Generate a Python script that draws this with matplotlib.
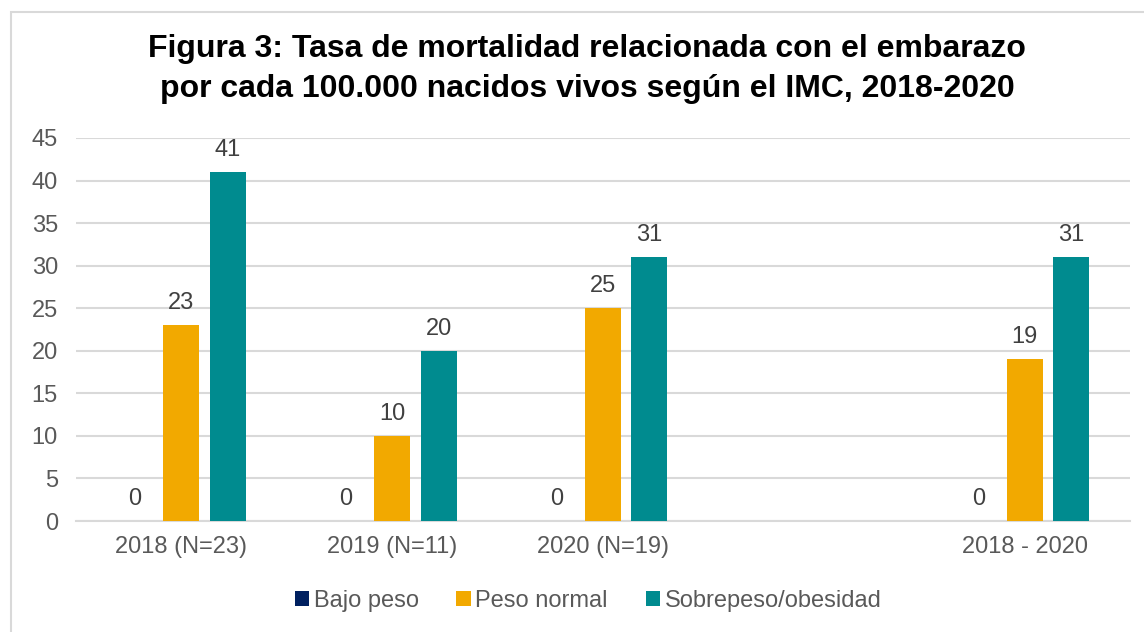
import matplotlib.pyplot as plt
from matplotlib.patches import Rectangle
import numpy as np

plt.rcParams['font.family'] = ['Liberation Sans', 'DejaVu Sans']

categories = ["2018 (N=23)", "2019 (N=11)", "2020 (N=19)", "", "2018 - 2020"]
bajo_peso = [0, 0, 0, None, 0]
peso_normal = [23, 10, 25, None, 19]
sobrepeso = [41, 20, 31, None, 31]

series = [("Bajo peso", bajo_peso, "#002060"),
          ("Peso normal", peso_normal, "#F2A900"),
          ("Sobrepeso/obesidad", sobrepeso, "#008B8F")]

W, H = 1144, 632
fig = plt.figure(figsize=(W / 100, H / 100), dpi=100)
ax = fig.add_axes([76 / W, 1 - 521 / H, (1130 - 76) / W, (521 - 138) / H])

# outer chart border (only top/left visible in the reference)
fig.patches.append(Rectangle((10.5 / W, -0.1), 2, (H - 11.5) / H + 0.1,
                             transform=fig.transFigure, fill=False,
                             edgecolor="#D9D9D9", linewidth=1.5))

x = np.arange(len(categories))
bw = 0.171
step = 0.22
grey = "#595959"
for i, (name, vals, col) in enumerate(series):
    xs = [xi + (i - 1) * step for xi, v in zip(x, vals) if v is not None]
    vs = [v for v in vals if v is not None]
    ax.bar(xs, vs, width=bw, color=col, label=name, zorder=3)
    for xi, v in zip(xs, vs):
        ax.text(xi, v + 1.3, f"{v}", ha="center", va="bottom",
                fontsize=17, color="#404040")

ax.set_xlim(-0.5, len(categories) - 0.5)
ax.set_ylim(0, 45)
ax.set_yticks(range(0, 46, 5))
ax.set_xticks(x)
ax.set_xticklabels(categories)
ax.tick_params(axis="both", length=0, labelsize=17, labelcolor=grey)
ax.tick_params(axis="y", pad=13)
ax.tick_params(axis="x", pad=11)
ax.grid(axis="y", color="#D9D9D9", linewidth=1.5, zorder=0)
for s in ["top", "right", "left"]:
    ax.spines[s].set_visible(False)
ax.spines["bottom"].set_color("#D9D9D9")
ax.spines["bottom"].set_linewidth(1.5)

fig.text(587 / W, 1 - 69 / H,
         "Figura 3: Tasa de mortalidad relacionada con el embarazo\n"
         "por cada 100.000 nacidos vivos según el IMC, 2018-2020",
         ha="center", va="center", fontsize=23, fontweight="bold",
         color="black", linespacing=1.45)

fig.legend(loc="center", bbox_to_anchor=(588 / W, 1 - 601 / H), ncol=3,
           frameon=False, fontsize=17, labelcolor=grey, handlelength=0.6,
           handleheight=0.6, handletextpad=0.2, columnspacing=1.6)

fig.savefig("out.png", dpi=100)
